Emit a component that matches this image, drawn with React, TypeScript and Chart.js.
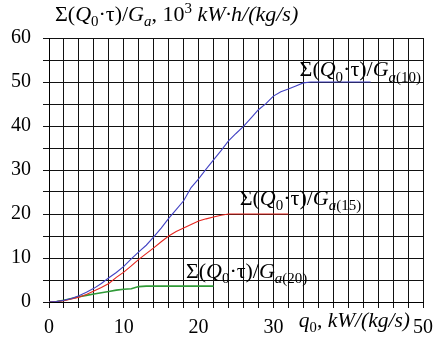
import React, { useEffect, useRef } from "react";
import { Chart, registerables } from "chart.js";

Chart.register(...registerables);

// ---- data ----
const q10X = [0, 1, 2, 3, 4, 5, 6, 7, 8, 9, 10, 11, 12, 13, 14, 15, 16, 17, 18, 19, 20, 21, 22, 23, 24, 25, 26, 27, 28, 29, 30, 31, 32, 33, 34, 35, 43];
const q10Y = [0, 0.1, 0.4, 0.8, 1.4, 2.2, 3.1, 4.2, 5.5, 6.7, 8.1, 9.8, 11.4, 12.9, 14.8, 16.8, 19.0, 21.0, 23.0, 26.0, 28.0, 30.2, 32.3, 34.4, 36.6, 38.3, 39.9, 41.8, 43.7, 45.1, 46.8, 47.8, 48.4, 49.1, 49.8, 50, 50];

const q15X = [0, 1, 2, 3, 4, 5, 6, 7, 8, 9, 10, 11, 12, 13, 14, 15, 16, 17, 18, 19, 20, 21, 22, 23, 24, 32];
const q15Y = [0, 0.1, 0.3, 0.7, 1.1, 1.7, 2.5, 3.3, 4.2, 5.6, 6.8, 8.2, 9.7, 11.0, 12.3, 13.7, 15.0, 16.0, 16.8, 17.6, 18.4, 18.9, 19.3, 19.7, 20.0, 20.0];

const q20X = [0, 1, 2, 3, 4, 5, 6, 7, 8, 9, 10, 11, 12, 13, 22];
const q20Y = [0, 0.1, 0.4, 0.8, 1.2, 1.5, 1.8, 2.1, 2.4, 2.7, 2.9, 3.0, 3.5, 3.6, 3.6];

const xMin = 0;
const xMax = 50;
const xStep = 2;
const yMin = 0;
const yMax = 60;
const yStep = 5;
const xLabelled = [0, 10, 20, 30, 50];
const yLabelled = [0, 10, 20, 30, 40, 50, 60];

// label anchors (data units: left edge x, baseline y)
const label10At = { x: 33.5, y: 51.3 };
const label15At = { x: 25.5, y: 22.1 };
const label20At = { x: 18.3, y: 5.45 };

const FAMILY = '"Liberation Serif", "Times New Roman", serif';

type Seg = { t: string; i?: boolean; sub?: boolean; sup?: boolean };

const seriesLabel = (n: string): Seg[] => [
  { t: "Σ(" },
  { t: "Q", i: true },
  { t: "0", sub: true },
  { t: "·τ)/" },
  { t: "G", i: true },
  { t: "a", i: true, sub: true },
  { t: "(" + n + ")", sub: true },
];

const yTitle: Seg[] = [
  { t: "Σ(" },
  { t: "Q", i: true },
  { t: "0", sub: true },
  { t: "·τ)/" },
  { t: "G", i: true },
  { t: "a", i: true, sub: true },
  { t: ", 10" },
  { t: "3", sup: true },
  { t: " kW·h/(kg/s)", i: true },
];

const xTitle: Seg[] = [
  { t: "q", i: true },
  { t: "0", sub: true },
  { t: ", " },
  { t: "kW/(kg/s)", i: true },
];

function drawRich(ctx: CanvasRenderingContext2D, segs: Seg[], x: number, y: number, size: number) {
  ctx.save();
  ctx.textBaseline = "alphabetic";
  ctx.textAlign = "left";
  ctx.fillStyle = "#000";
  let cx = x;
  for (const s of segs) {
    const sz = s.sub || s.sup ? size * 0.68 : size;
    ctx.font = `${s.i ? "italic " : ""}${sz}px ${FAMILY}`;
    const dy = s.sub ? size * 0.24 : s.sup ? -size * 0.36 : 0;
    ctx.fillText(s.t, cx, y + dy);
    cx += ctx.measureText(s.t).width;
  }
  ctx.restore();
}

const textPlugin = {
  id: "richText",
  afterDatasetsDraw(chart: any) {
    const ctx = chart.ctx as CanvasRenderingContext2D;
    const xs = chart.scales.x;
    const ys = chart.scales.y;
    const a = chart.chartArea;
    drawRich(ctx, yTitle, a.left + 6, a.top - 17, 22);
    drawRich(ctx, xTitle, xs.getPixelForValue(33.4), a.bottom + 25, 21.5);
    drawRich(ctx, seriesLabel("10"), xs.getPixelForValue(label10At.x), ys.getPixelForValue(label10At.y), 22);
    drawRich(ctx, seriesLabel("15"), xs.getPixelForValue(label15At.x), ys.getPixelForValue(label15At.y), 22);
    drawRich(ctx, seriesLabel("20"), xs.getPixelForValue(label20At.x), ys.getPixelForValue(label20At.y), 22);
  },
};

const pts = (xs: number[], ys: number[]) => xs.map((x, i) => ({ x, y: ys[i] }));

export default function App() {
  const ref = useRef<HTMLCanvasElement | null>(null);
  useEffect(() => {
    if (!ref.current) return;
    const chart = new Chart(ref.current, {
      type: "line",
      data: {
        datasets: [
          { data: pts(q10X, q10Y), borderColor: "#4343c4", borderWidth: 1.1, pointRadius: 0, tension: 0 },
          { data: pts(q15X, q15Y), borderColor: "#e5261f", borderWidth: 1.1, pointRadius: 0, tension: 0 },
          { data: pts(q20X, q20Y), borderColor: "#2f9a37", borderWidth: 1.6, pointRadius: 0, tension: 0 },
        ],
      },
      options: {
        responsive: false,
        animation: false,
        layout: { padding: { top: 38, right: 12, left: 0, bottom: 0 } },
        plugins: { legend: { display: false }, tooltip: { enabled: false } },
        scales: {
          x: {
            type: "linear",
            min: xMin,
            max: xMax,
            afterFit: (s: any) => {
              s.height = 40;
            },
            ticks: {
              stepSize: xStep,
              autoSkip: false,
              maxRotation: 0,
              padding: 8,
              color: "#000",
              font: { family: FAMILY, size: 20 },
              callback: (v: any) => (xLabelled.includes(Number(v)) ? String(v) : ""),
            },
            grid: { color: "#111", lineWidth: 1, tickLength: 6, drawTicks: true },
            border: { color: "#000", width: 1 },
          },
          y: {
            type: "linear",
            min: yMin,
            max: yMax,
            afterFit: (s: any) => {
              s.width = 49;
            },
            ticks: {
              stepSize: yStep,
              autoSkip: false,
              padding: 12,
              color: "#000",
              font: { family: FAMILY, size: 20 },
              callback: (v: any) => (yLabelled.includes(Number(v)) ? String(v) : ""),
            },
            grid: { color: "#111", lineWidth: 1, tickLength: 6, drawTicks: true },
            border: { color: "#000", width: 1 },
          },
        },
      },
      plugins: [textPlugin],
    } as any);
    return () => chart.destroy();
  }, []);
  return (
    <div style={{ position: "fixed", left: 0, top: 0, width: 441, height: 342, background: "#fff" }}>
      <canvas ref={ref} width={441} height={342} style={{ display: "block" }} />
    </div>
  );
}
